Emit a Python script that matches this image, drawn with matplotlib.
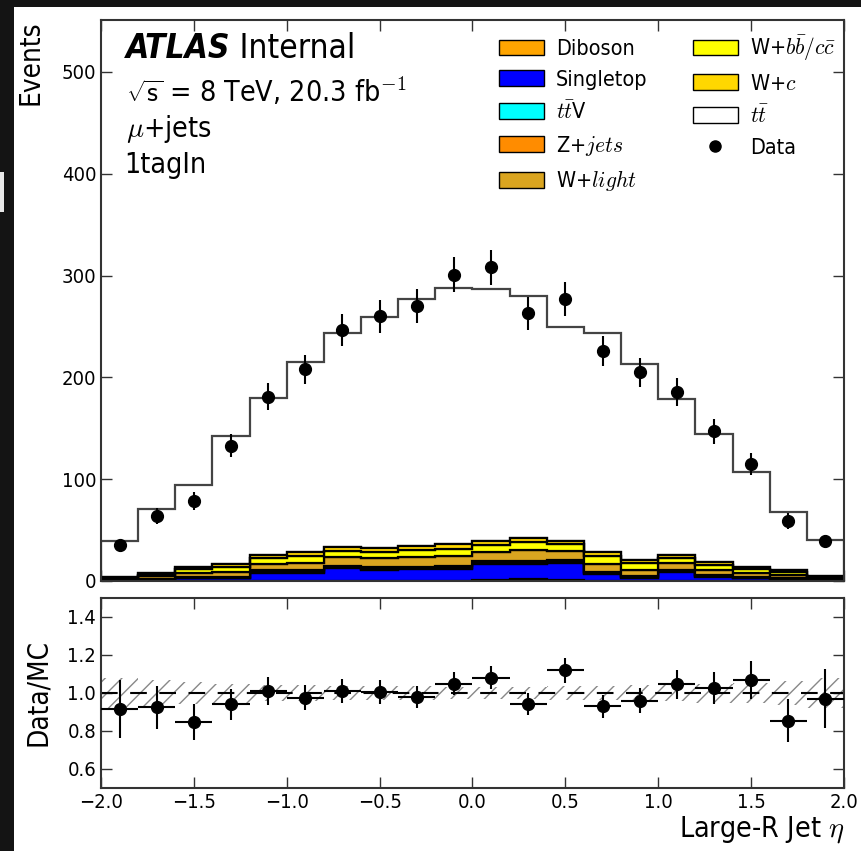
import numpy as np
import matplotlib
matplotlib.use("Agg")
import matplotlib.pyplot as plt
from matplotlib.patches import Patch, Rectangle
from matplotlib.lines import Line2D

plt.rcParams['font.family'] = ['DejaVu Sans']
plt.rcParams['font.stretch'] = 'condensed'
plt.rcParams['mathtext.fontset'] = 'cm'
plt.rcParams['hatch.color'] = '#888888'
plt.rcParams['hatch.linewidth'] = 1.0

# ---------------- data ----------------
bin_edges = [-2.0, -1.8, -1.6, -1.4, -1.2, -1.0, -0.8, -0.6, -0.4, -0.2, 0.0,
             0.2, 0.4, 0.6, 0.8, 1.0, 1.2, 1.4, 1.6, 1.8, 2.0]
bin_centers = [-1.9, -1.7, -1.5, -1.3, -1.1, -0.9, -0.7, -0.5, -0.3, -0.1,
               0.1, 0.3, 0.5, 0.7, 0.9, 1.1, 1.3, 1.5, 1.7, 1.9]

diboson   = [0.2, 0.2, 0.2, 0.2, 0.3, 0.3, 0.4, 0.4, 0.4, 0.4, 0.5, 2.0, 0.5, 0.4, 0.3, 0.3, 0.2, 0.2, 0.2, 0.2]
singletop = [0.5, 0.8, 2.5, 2.5, 8.0, 8.0, 12.0, 10.5, 11.0, 11.0, 16.0, 15.0, 17.0, 6.0, 3.0, 9.0, 4.0, 2.5, 2.0, 0.8]
ttV       = [0.2, 0.3, 0.4, 0.4, 0.6, 0.8, 1.2, 1.2, 1.2, 1.2, 1.2, 1.3, 1.2, 1.0, 0.7, 0.7, 0.6, 0.4, 0.3, 0.2]
zjets     = [0.5, 0.8, 1.0, 1.2, 2.0, 2.0, 1.5, 1.5, 1.6, 1.8, 1.5, 1.5, 1.5, 1.5, 1.2, 1.2, 1.0, 0.8, 0.8, 0.6]
wlight    = [1.0, 2.5, 3.5, 4.5, 6.0, 7.0, 8.0, 8.5, 9.0, 10.0, 9.5, 10.5, 9.5, 8.0, 6.0, 6.0, 5.0, 4.0, 3.0, 1.2]
wbbcc     = [0.8, 1.5, 4.0, 5.0, 6.0, 6.5, 6.5, 6.5, 7.0, 7.5, 7.0, 8.0, 6.5, 7.5, 6.0, 5.5, 5.0, 3.5, 2.5, 1.0]
wc        = [0.8, 1.9, 2.4, 3.2, 3.1, 3.4, 3.4, 3.4, 3.8, 4.1, 3.3, 3.7, 2.8, 3.6, 3.8, 3.3, 3.2, 2.6, 2.2, 1.0]
ttbar     = [35, 63, 80, 125, 154, 187, 211, 227, 243, 252, 248, 238, 210, 216, 192, 153, 125, 93, 57, 35]

data = [35, 64, 79, 133, 181, 208, 247, 260, 270, 301, 308, 263, 277, 226, 205, 186, 147, 115, 59, 39]

ratio = [0.915, 0.925, 0.845, 0.94, 1.01, 0.975, 1.01, 1.005, 0.98, 1.05,
         1.08, 0.94, 1.12, 0.93, 0.96, 1.045, 1.025, 1.07, 0.855, 0.97]
mc_unc = [0.08, 0.07, 0.06, 0.05, 0.04, 0.04, 0.035, 0.035, 0.035, 0.03,
          0.03, 0.03, 0.035, 0.035, 0.04, 0.04, 0.05, 0.055, 0.065, 0.08]

components = [
    ("Diboson",   diboson,   "#FFA500"),
    ("Singletop", singletop, "#0000FF"),
    (r"$t\bar{t}$V", ttV,    "#00FFFF"),
    (r"Z+$jets$", zjets,     "#FF8C00"),
    (r"W+$light$", wlight,   "#DAA520"),
    (r"W+$b\bar{b}/c\bar{c}$", wbbcc, "#FFFF00"),
    (r"W+$c$", wc,           "#FFD700"),
]

# ---------------- figure ----------------
fig = plt.figure(figsize=(8.62, 8.51), dpi=100)
fig.patch.set_facecolor('#141414')
fig.patches.append(Rectangle((14 / 862, 0), 1 - 14 / 862, 1 - 7 / 851,
                             transform=fig.transFigure, facecolor='white',
                             edgecolor='none', zorder=-5))
fig.patches.append(Rectangle((0, 1 - 212 / 851), 4 / 862, 40 / 851,
                             transform=fig.transFigure, facecolor='#e8e8e8',
                             edgecolor='none', zorder=-5))

ax = fig.add_axes([101 / 862, 1 - 581 / 851, 743 / 862, 561 / 851])
rax = fig.add_axes([101 / 862, 1 - 788 / 851, 743 / 862, 190 / 851])

edges = np.array(bin_edges)
bottom = np.zeros(len(bin_centers))
handles = []
for name, vals, col in components:
    top = bottom + np.array(vals)
    ax.stairs(top, edges, baseline=bottom, fill=True, facecolor=col,
              edgecolor='black', linewidth=1.6, zorder=2)
    handles.append(Patch(facecolor=col, edgecolor='black', linewidth=1.0, label=name))
    bottom = top
top = bottom + np.array(ttbar)
ax.stairs(top, edges, baseline=bottom, fill=True, facecolor='white',
          edgecolor='#444444', linewidth=1.6, zorder=1)
handles.append(Patch(facecolor='white', edgecolor='black', linewidth=1.0, label=r"$t\bar{t}$"))
total = top

data_arr = np.array(data, dtype=float)
ax.errorbar(bin_centers, data_arr, yerr=np.sqrt(data_arr), fmt='o', color='black',
            markersize=8.5, elinewidth=1.5, capsize=0, zorder=5)
handles.append(Line2D([], [], marker='o', color='black', markersize=8,
                      linestyle='none', label='Data'))

ax.set_xlim(-2.0, 2.0)
ax.set_ylim(0, 551)
ax.set_yticks([0, 100, 200, 300, 400, 500])
ax.set_xticks(np.arange(-2.0, 2.01, 0.5))
ax.tick_params(axis='x', labelbottom=False)
ax.set_ylabel('Events', fontsize=20, loc='top')
ax.yaxis.set_label_coords(-0.0754, 1.0)

leg = ax.legend(handles=handles, ncol=2, loc='upper right', frameon=False,
                fontsize=15.5, handlelength=2.1, handleheight=0.75,
                columnspacing=2.1, labelspacing=0.5, handletextpad=0.56,
                borderpad=0.0, borderaxespad=0.0,
                bbox_to_anchor=(0.989, 0.976))

t1 = ax.text(0.033, 0.950, "ATLAS", transform=ax.transAxes, fontsize=24,
             fontweight='bold', fontstyle='italic', va='center', ha='left')
ax.annotate(" Internal", xy=(1.0, 0.5), xycoords=t1, fontsize=24,
            va='center', ha='left')
ax.text(0.033, 0.872, r"$\sqrt{\mathsf{s}}$ = 8 TeV, 20.3 fb$^{-1}$", transform=ax.transAxes,
        fontsize=20.5, va='center', ha='left')
ax.text(0.033, 0.806, r"$\mu$+jets", transform=ax.transAxes,
        fontsize=20.5, va='center', ha='left')
ax.text(0.031, 0.742, "1tagIn", transform=ax.transAxes,
        fontsize=20.5, va='center', ha='left')

# ---------------- ratio ----------------
unc = np.array(mc_unc)
lo = np.append(1 - unc, 1 - unc[-1])
hi = np.append(1 + unc, 1 + unc[-1])
rax.fill_between(edges, lo, hi, step='post', facecolor='none', hatch='//',
                 edgecolor='#888888', linewidth=0, zorder=1)
rax.axhline(1.0, color='black', linestyle=(0, (8, 6)), linewidth=1.5, zorder=2)
rerr = np.sqrt(data_arr) / total
rax.errorbar(bin_centers, ratio, yerr=rerr, xerr=0.1, fmt='o', color='black',
             markersize=8.5, elinewidth=1.5, capsize=0, zorder=5)
rax.set_xlim(-2.0, 2.0)
rax.set_ylim(0.5, 1.5)
rax.set_yticks([0.6, 0.8, 1.0, 1.2, 1.4])
rax.set_xticks(np.arange(-2.0, 2.01, 0.5))
rax.set_ylabel('Data/MC', fontsize=20)
rax.yaxis.set_label_coords(-0.066, 0.5)
rax.set_xlabel(r"Large-R Jet $\eta$", fontsize=20.5, loc='right', labelpad=2)

for a in (ax, rax):
    a.tick_params(direction='in', top=True, right=True, length=8, width=1.0,
                  labelsize=14.5, color='#333333')
    for s in a.spines.values():
        s.set_linewidth(1.5)
        s.set_color('#333333')
    a.set_facecolor('white')

fig.savefig('out.png', dpi=100, facecolor=fig.get_facecolor())
